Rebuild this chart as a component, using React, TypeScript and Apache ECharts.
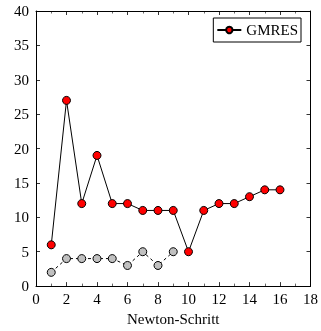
import React, { useEffect, useRef } from "react";
import * as echarts from "echarts";

const steps = [1, 2, 3, 4, 5, 6, 7, 8, 9, 10, 11, 12, 13, 14, 15, 16];
const gmresIters = [6, 27, 12, 19, 12, 12, 11, 11, 11, 5, 11, 12, 12, 13, 14, 14];
const innerSteps = [1, 2, 3, 4, 5, 6, 7, 8, 9];
const innerIters = [2, 4, 4, 4, 4, 3, 5, 3, 5];

const FONT = "'Liberation Serif', serif";
const FS = 15;

export default function App() {
  const ref = useRef<HTMLDivElement>(null);
  useEffect(() => {
    if (!ref.current) return;
    const chart = echarts.init(ref.current, null, { renderer: "svg" });
    const tickCommon = {
      axisLine: { show: true, onZero: false, lineStyle: { color: "#000", width: 1 } },
      axisTick: { show: true, inside: true, length: 4, lineStyle: { color: "#000", width: 0.8 } },
      splitLine: { show: false },
    };
    const minor = { show: true, splitNumber: 2, length: 2.5, lineStyle: { color: "#000", width: 0.6 } };
    chart.setOption({
      animation: false,
      textStyle: { fontFamily: FONT },
      grid: { left: 36, right: 5, top: 11, bottom: 41, containLabel: false },
      legend: {
        data: ["GMRES"],
        right: 20,
        top: 18,
        orient: "vertical",
        borderColor: "#000",
        borderWidth: 1,
        borderRadius: 0,
        padding: [4, 3, 4, 3],
        itemWidth: 24,
        itemHeight: 8,
        itemGap: 4,
        textStyle: { fontFamily: FONT, fontSize: FS, color: "#000", lineHeight: 16 },
      },
      xAxis: [
        {
          type: "value",
          min: 0,
          max: 18,
          interval: 2,
          position: "bottom",
          ...tickCommon,
          minorTick: minor,
          axisLabel: { fontFamily: FONT, fontSize: FS, color: "#000", margin: 5 },
          name: "Newton-Schritt",
          nameLocation: "middle",
          nameGap: 24,
          nameTextStyle: { fontFamily: FONT, fontSize: FS, color: "#000" },
        },
        {
          type: "value",
          min: 0,
          max: 18,
          interval: 2,
          position: "top",
          ...tickCommon,
          minorTick: minor,
          axisLabel: { show: false },
        },
      ],
      yAxis: [
        {
          type: "value",
          min: 0,
          max: 40,
          interval: 5,
          position: "left",
          ...tickCommon,
          axisLabel: { fontFamily: FONT, fontSize: FS, color: "#000", margin: 7 },
        },
        {
          type: "value",
          min: 0,
          max: 40,
          interval: 5,
          position: "right",
          ...tickCommon,
          axisLabel: { show: false },
        },
      ],
      series: [
        {
          name: "inner",
          type: "line",
          data: innerSteps.map((s, i) => [s, innerIters[i]]),
          symbol: "circle",
          symbolSize: 8,
          lineStyle: { color: "#000", width: 1, type: [3, 3] },
          itemStyle: { color: "#c0c0c0", borderColor: "#000", borderWidth: 1 },
          z: 2,
        },
        {
          name: "GMRES",
          type: "line",
          data: steps.map((s, i) => [s, gmresIters[i]]),
          symbol: "circle",
          symbolSize: 8,
          lineStyle: { color: "#000", width: 1 },
          itemStyle: { color: "#ff0000", borderColor: "#000", borderWidth: 1 },
          z: 3,
        },
      ],
    });
    return () => chart.dispose();
  }, []);
  return (
    <div
      ref={ref}
      style={{ position: "fixed", left: 0, top: 0, width: 321, height: 331 }}
    />
  );
}
